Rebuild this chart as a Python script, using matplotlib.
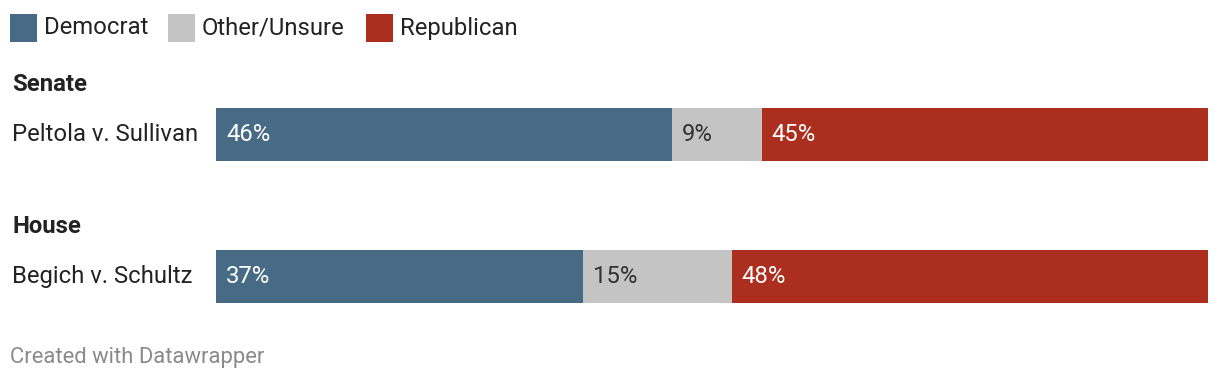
import numpy as np
import matplotlib.pyplot as plt
from matplotlib.patches import Rectangle

plt.rcParams['font.family'] = ['Roboto', 'DejaVu Sans']

races = ["Peltola v. Sullivan", "Begich v. Schultz"]
groups = ["Senate", "House"]
parties = ["Democrat", "Other/Unsure", "Republican"]
colors = ["#476a85", "#c4c4c4", "#ab2e1e"]
label_colors = ["white", "#333333", "white"]
values = np.array([
    [46, 9, 45],
    [37, 15, 48],
])

W, H = 1220, 380
fig = plt.figure(figsize=(W / 100, H / 100), dpi=100)
FS = 17.2

def fx(px):
    return px / W

def fy(py):
    return 1 - py / H

# bar axes: bars occupy y 108-161 and 250-303 px
bar_h = 53 / 142
pad = bar_h / 2
ax = fig.add_axes([fx(216), fy(303), fx(1208) - fx(216), (303 - 108) / H])
ax.set_xlim(0, 100)
ax.set_ylim(1 + pad, -pad)
ax.axis('off')

y = np.arange(len(races))
left = np.zeros(len(races))
for j, party in enumerate(parties):
    ax.barh(y, values[:, j], left=left, height=bar_h, color=colors[j], linewidth=0)
    for i in range(len(races)):
        ax.text(left[i] + 1.0, y[i], f"{values[i, j]}%", color=label_colors[j],
                fontsize=FS, va='center', ha='left')
    left += values[:, j]

# row labels and group headers
for i in range(len(races)):
    yc = 134.5 + 142 * i
    fig.text(fx(12), fy(yc), races[i], fontsize=FS, color="#222222", va='center', ha='left')
    fig.text(fx(12), fy(yc - 50), groups[i], fontsize=FS, fontweight='bold',
             color="#222222", va='center', ha='left')

# legend
leg_x = [10, 168, 366]
for j, party in enumerate(parties):
    fig.add_artist(Rectangle((fx(leg_x[j]), fy(42)), 27 / W, 28 / H,
                             transform=fig.transFigure, color=colors[j], linewidth=0))
    fig.text(fx(leg_x[j] + 34), fy(28), party, fontsize=FS, color="#222222",
             va='center', ha='left')

fig.text(fx(10), fy(357), "Created with Datawrapper", fontsize=15.8, color="#8a8a8a",
         va='center', ha='left')

fig.savefig("out.png", dpi=100)
